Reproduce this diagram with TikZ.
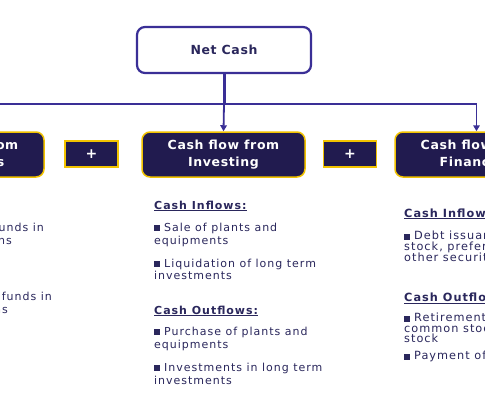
\documentclass[tikz,border=0pt]{standalone}
\usepackage{fontspec}
\setmainfont{DejaVu Sans}
\newfontfamily\bodyfont[LetterSpace=9]{DejaVu Sans}
\newfontfamily\titlefont[LetterSpace=5]{DejaVu Sans}
\usetikzlibrary{arrows.meta}
\definecolor{navy}{HTML}{211B4F}
\definecolor{gold}{HTML}{F2C300}
\definecolor{linkc}{HTML}{3A2F96}
\definecolor{txtc}{HTML}{2A275C}
\newcommand{\bul}{\rule{6pt}{6pt}\hspace{4pt}}
\tikzset{
  netbox/.style={draw=linkc, line width=2.2pt, rounded corners=8pt, fill=white,
    minimum width=174pt, minimum height=46pt, text=txtc,
    font=\titlefont\fontsize{12.5}{14}\selectfont\bfseries},
  colbox/.style={draw=gold, fill=navy, line width=1.5pt, rounded corners=8pt,
    minimum width=163pt, minimum height=45pt, text=white, align=center,
    font=\titlefont\fontsize{12.5}{17}\selectfont\bfseries},
  plusbox/.style={draw=gold, fill=navy, line width=1.5pt,
    minimum width=53pt, minimum height=26pt, text=white,
    font=\fontsize{14}{14}\selectfont\bfseries},
  branch/.style={draw=linkc, line width=1.8pt, -{Triangle[width=6.5pt,length=6pt]}},
  trunk/.style={draw=linkc, line width=3pt},
  bodyt/.style={anchor=base west, inner sep=0pt, text=txtc, font=\bodyfont\fontsize{11}{13}\selectfont},
  bodyr/.style={anchor=base west, inner sep=0pt, text=txtc, font=\bodyfont\fontsize{11.3}{11}\selectfont},
  bodyl/.style={anchor=base east, inner sep=0pt, text=txtc, font=\bodyfont\fontsize{11}{13}\selectfont},
  headt/.style={bodyt, font=\bodyfont\fontsize{11}{13}\selectfont\bfseries},
  headr/.style={bodyr, font=\bodyfont\fontsize{11.3}{11}\selectfont\bfseries},
}
\begin{document}
\begin{tikzpicture}[x=1pt,y=-1pt]
\useasboundingbox (0,0) rectangle (485,405);
\fill[white] (0,0) rectangle (485,405);
\clip (0,0) rectangle (485,405);

\node[netbox] (net) at (224,50) {Net Cash};
\node[colbox] (op) at (-37.5,154.5) {Cash flow from\\Operations};
\node[colbox] (inv) at (223.5,154.5) {Cash flow from\\Investing};
\node[colbox] (fin) at (476.5,154.5) {Cash flow from\\Financing};
\node[plusbox] (p1) at (91.5,154) {+};
\node[plusbox] (p2) at (350,154) {+};

\coordinate (j) at (224,104);
\draw[trunk] (net.south) -- (j);
\draw[branch] (j) -- (inv.north);
\draw[branch] (j) -| (fin.north);
\draw[branch] (j) -| (op.north);

% left column (clipped)
\node[bodyl] (l1) at (44,231) {\bul Receipt of funds in};
\node[bodyl] (l2) at (12,244) {operations};
\node[bodyl] (l3) at (52,300) {\bul Payment of funds in};
\node[bodyl] (l4) at (8,313) {operations};

% middle column
\node[headt] (m0) at (154,209) {\underline{Cash Inflows:}};
\node[bodyt] (m1) at (154,231) {\bul Sale of plants and};
\node[bodyt] (m2) at (154,244) {equipments};
\node[bodyt] (m3) at (154,267) {\bul Liquidation of long term};
\node[bodyt] (m4) at (154,279) {investments};
\node[headt] (m5) at (154,314) {\underline{Cash Outflows:}};
\node[bodyt] (m6) at (154,335) {\bul Purchase of plants and};
\node[bodyt] (m7) at (154,348) {equipments};
\node[bodyt] (m8) at (154,371) {\bul Investments in long term};
\node[bodyt] (m9) at (154,384) {investments};

% right column
\node[headr] (r0) at (404,217) {\underline{Cash Inflows:}};
\node[bodyr] (r1) at (404,239.5) {\bul Debt issuance, common};
\node[bodyr] (r2) at (404,250.5) {stock, preferred stock and};
\node[bodyr] (r3) at (404,261.5) {other securities};
\node[headr] (r4) at (404,301.5) {\underline{Cash Outflows:}};
\node[bodyr] (r5) at (404,321.5) {\bul Retirement of debt,};
\node[bodyr] (r6) at (404,332) {common stock, preferred};
\node[bodyr] (r7) at (404,342.5) {stock};
\node[bodyr] (r8) at (404,359.5) {\bul Payment of dividends};
\end{tikzpicture}
\end{document}
